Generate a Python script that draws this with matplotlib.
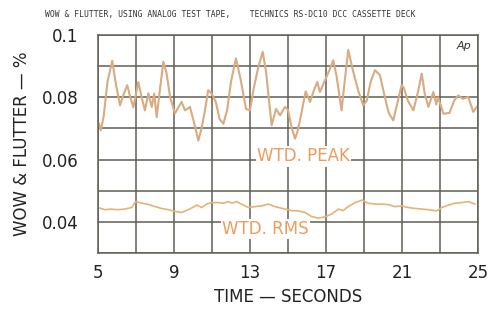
import matplotlib
matplotlib.use("Agg")
import matplotlib.pyplot as plt

# wtd. peak trace (time s, %)
peak_t = [5.05, 5.15, 5.3, 5.5, 5.75, 5.95, 6.16, 6.35, 6.54, 6.7, 6.86, 7.0, 7.12, 7.3,
          7.47, 7.65, 7.83, 7.96, 8.09, 8.25, 8.44, 8.6, 8.8, 9.05, 9.25, 9.4, 9.58, 9.84,
          10.05, 10.28, 10.45, 10.63, 10.8, 10.98, 11.2, 11.4, 11.6, 11.8, 12.0, 12.26,
          12.5, 12.79, 13.0, 13.2, 13.45, 13.67, 13.85, 14.0, 14.14, 14.37, 14.58, 14.84,
          15.0, 15.2, 15.37, 15.5, 15.63, 15.93, 16.16, 16.35, 16.54, 16.68, 16.95, 17.2,
          17.38, 17.55, 17.82, 18.0, 18.17, 18.4, 18.7, 18.96, 19.15, 19.35, 19.58, 19.84,
          20.1, 20.3, 20.54, 20.75, 20.98, 21.1, 21.3, 21.6, 21.85, 22.04, 22.2, 22.39,
          22.65, 22.8, 22.9, 23.18, 23.5, 23.75, 23.96, 24.2, 24.49, 24.75, 24.93]
peak_v = [0.0716, 0.0694, 0.0740, 0.0850, 0.0917, 0.0840, 0.0774, 0.0810, 0.0839, 0.0800,
          0.0768, 0.0810, 0.0849, 0.0800, 0.0758, 0.0813, 0.0769, 0.0812, 0.0736, 0.0820,
          0.0914, 0.0880, 0.0800, 0.0748, 0.0770, 0.0785, 0.0758, 0.0769, 0.0720, 0.0661,
          0.0700, 0.0758, 0.0823, 0.0812, 0.0785, 0.0730, 0.0715, 0.0760, 0.0850, 0.0925,
          0.0860, 0.0763, 0.0758, 0.0830, 0.0900, 0.0946, 0.0880, 0.0790, 0.0710, 0.0763,
          0.0742, 0.0769, 0.0760, 0.0700, 0.0667, 0.0690, 0.0726, 0.0819, 0.0785, 0.0820,
          0.0849, 0.0817, 0.0855, 0.0890, 0.0919, 0.0870, 0.0758, 0.0860, 0.0952, 0.0890,
          0.0820, 0.0774, 0.0790, 0.0850, 0.0887, 0.0871, 0.0800, 0.0750, 0.0726, 0.0780,
          0.0839, 0.0830, 0.0790, 0.0758, 0.0820, 0.0876, 0.0810, 0.0769, 0.0817, 0.0777,
          0.0800, 0.0747, 0.0750, 0.0790, 0.0806, 0.0795, 0.0801, 0.0753, 0.0769]

# wtd. rms trace
rms_t = [5.0, 5.37, 5.7, 6.07, 6.4, 6.77, 6.98, 7.3, 7.65, 8.0, 8.35, 8.7, 9.05, 9.4,
         9.75, 10.07, 10.19, 10.46, 10.72, 10.98, 11.3, 11.6, 11.86, 12.05, 12.3, 12.55,
         12.91, 13.26, 13.6, 13.96, 14.32, 14.84, 15.2, 15.54, 15.9, 16.25, 16.6, 16.95,
         17.3, 17.65, 17.9, 18.17, 18.53, 18.91, 19.2, 19.58, 19.95, 20.3, 20.63, 20.98,
         21.33, 21.7, 22.04, 22.4, 22.82, 23.09, 23.45, 23.79, 24.15, 24.49, 24.84]
rms_v = [0.0446, 0.0439, 0.0441, 0.0439, 0.0441, 0.0446, 0.0465, 0.0460, 0.0456, 0.0449,
         0.0443, 0.0439, 0.0434, 0.0430, 0.0439, 0.0449, 0.0454, 0.0446, 0.0457, 0.0462,
         0.0462, 0.0460, 0.0465, 0.0460, 0.0465, 0.0457, 0.0446, 0.0449, 0.0451, 0.0457,
         0.0449, 0.0441, 0.0436, 0.0435, 0.0430, 0.0417, 0.0412, 0.0416, 0.0425, 0.0441,
         0.0436, 0.0449, 0.0462, 0.0470, 0.0460, 0.0457, 0.0457, 0.0455, 0.0449, 0.0451,
         0.0446, 0.0443, 0.0441, 0.0439, 0.0435, 0.0446, 0.0454, 0.0460, 0.0462, 0.0465,
         0.0457]

x_ticks = [5, 9, 13, 17, 21, 25]
y_ticks = [0.04, 0.06, 0.08, 0.1]
y_tick_labels = ["0.04", "0.06", "0.08", "0.1"]

GRID = "#5f5f55"
PEAK_COLOR = "#d8ab80"
RMS_COLOR = "#e6b275"
LABEL_ORANGE = "#ec9c5c"

fig = plt.figure(figsize=(4.89, 3.12), dpi=100)
ax = fig.add_axes([0.2004, 0.1891, 0.7771, 0.6987])

ax.set_xlim(5, 25)
ax.set_ylim(0.03, 0.1)
ax.set_xticks(x_ticks)
ax.set_xticklabels([str(t) for t in x_ticks])
ax.set_yticks(y_ticks)
ax.set_yticklabels(y_tick_labels)
# grid every 2 s and every 0.01 %
for gx in range(5, 26, 2):
    ax.axvline(gx, color=GRID, lw=1.1, zorder=0)
for i in range(8):
    ax.axhline(0.03 + 0.01 * i, color=GRID, lw=1.1, zorder=0)
ax.tick_params(which="both", length=0, labelsize=12, colors="#222222")
ax.tick_params(axis="x", pad=8)
ax.tick_params(axis="y", pad=14)
for s in ax.spines.values():
    s.set_color(GRID)
    s.set_linewidth(1.1)

ax.plot(peak_t, peak_v, color=PEAK_COLOR, lw=1.5, solid_joinstyle="round")
ax.plot(rms_t, rms_v, color=RMS_COLOR, lw=1.2, solid_joinstyle="round")

ax.text(13.37, 0.061, "WTD. PEAK", color=LABEL_ORANGE, fontsize=12, va="center", ha="left",
        bbox=dict(facecolor="white", edgecolor="none", pad=1))
ax.text(11.53, 0.0377, "WTD. RMS", color=LABEL_ORANGE, fontsize=12, va="center", ha="left",
        bbox=dict(facecolor="white", edgecolor="none", pad=1))
ax.text(24.65, 0.0965, "Ap", fontsize=8, style="italic", ha="right", va="center", color="#333333")

ax.set_xlabel("TIME \u2014 SECONDS", fontsize=12, labelpad=4, color="#222222")
ax.set_ylabel("WOW & FLUTTER \u2014 %", fontsize=12, labelpad=8, color="#222222")

fig.text(0.47, 0.955, "WOW & FLUTTER, USING ANALOG TEST TAPE,    TECHNICS RS-DC10 DCC CASSETTE DECK",
         family="DejaVu Sans Mono", fontsize=5.8, ha="center", va="center", color="#333333")

fig.savefig("out.png", dpi=100)
